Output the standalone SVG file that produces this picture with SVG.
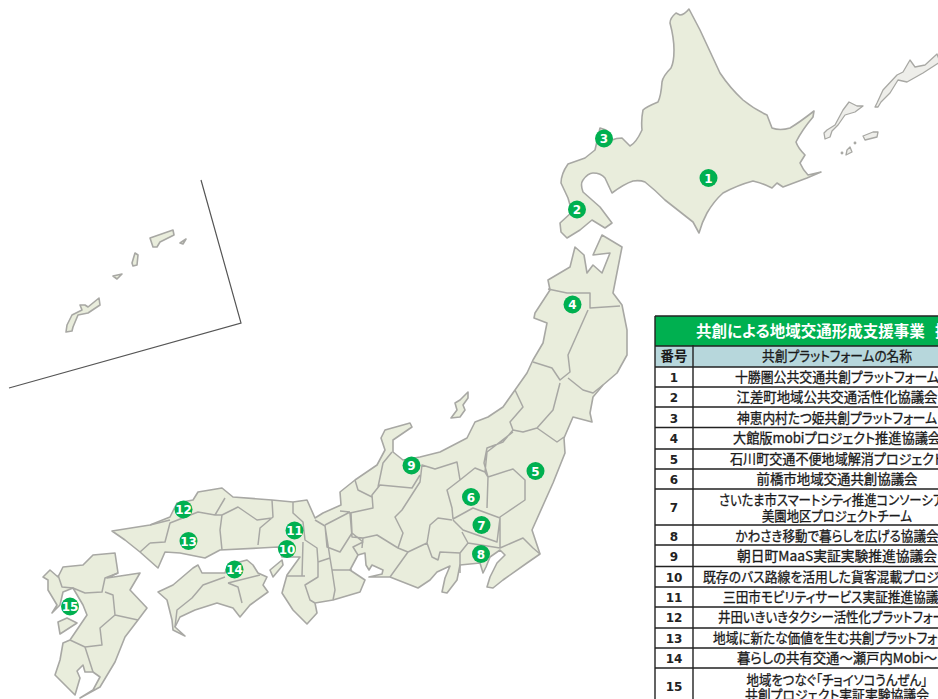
<svg xmlns="http://www.w3.org/2000/svg" width="938" height="699" viewBox="0 0 938 699">
<defs><filter id="soft" x="-2%" y="-2%" width="104%" height="104%"><feGaussianBlur stdDeviation="0.45"/></filter></defs>
<style>
.land{fill:#e9eddc;stroke:#a8a8a4;stroke-width:1.6;stroke-linejoin:round}
.isl{fill:#eeeeea;stroke:#a8a8a4;stroke-width:1.3;stroke-linejoin:round}
.bd{fill:none;stroke:#a8a8a4;stroke-width:1.5;stroke-linejoin:round}
.m circle{fill:#00b050}
.m text{font:bold 12px "DejaVu Sans",sans-serif;fill:#fff;text-anchor:middle}
.grid{stroke:#222;stroke-width:1.4;fill:none}
.t{font-family:"Noto Sans CJK JP",sans-serif;font-size:13.4px;font-weight:400;font-feature-settings:"palt";fill:#1a1a1a;stroke:#1a1a1a;stroke-width:.3;text-anchor:middle}
.n{font:bold 12px "DejaVu Sans",sans-serif;fill:#222;text-anchor:middle}
</style>
<g id="map" filter="url(#soft)">
<path class="land" id="hokkaido" d="M689 9Q684 15 680 15L676 13Q670 18 670 23Q674 38 674 50Q674 62 671 68Q663 76 662 82Q661 96 658 102Q646 107 643 110Q641 120 642 130Q636 143 630 146L622 138Q616 138 612 140L606 130L600 128L595 150L585 158L568 164Q561 174 561 183L568 198L572 212L560 223L561 232L567 238L580 230L592 220L605 228L612 223L600 207L583 192Q580 184 583 180Q588 173 593 173Q601 173 605 178L612 193Q624 184 633 181Q640 180 645 182Q655 190 665 200L693 222L699 233Q702 222 707 213Q714 201 723 193Q738 185 753 181Q762 183 772 188L777 183L783 187L807 178L821 172L808 175Q803 170 800 163L805 155Q798 148 796 142Q802 130 813 117L814 111Q800 122 790 128Q780 131 772 128L767 115Q754 109 743 100Q730 88 720 73L700 30Z"/>
<path class="isl" d="M824 133L825 139L830 137L832 131L838 125L845 115L855 112L863 106L857 106L849 102L843 110L835 125L827 130Z"/>
<path class="isl" d="M875 107L877 103L883 90L897 75L903 72L910 60L915 67L925 65L937 54L940 62L923 73L907 82L898 80L890 93L881 102L878 107Z"/>
<path class="isl" d="M863 136L873 132L878 132L877 137L865 140Z"/>
<path class="isl" d="M847 150L850 147L852 152L846 155Z"/>
<circle class="isl" cx="842" cy="153" r=".8"/><circle class="isl" cx="855" cy="143" r=".8"/>
<path class="land" id="sado" d="M468 392L460 400L455 403L457 410L451 418L460 417L465 410L463 405L468 398Z"/>
<path class="land" id="honshu" d="M602 235L593 255L610 253L602 273L593 265L587 273L584 255L575 247L570 267L548 280L550 290L535 313L534 318L547 323L543 343L533 360L527 373L515 390L503 407L488 417L475 422L467 438L440 452L420 457L403 460L393 452L393 440L412 427L410 423L385 430L381 438L385 450L377 465L355 480L340 492L341 505L323 513L315 518L307 500L293 502L272 500L233 497L222 488L198 492L193 500L177 503L170 517L150 525L112 531L125 540L140 552L158 568L165 552L180 553L205 558L220 550L260 548L278 547L282 557L297 557L300 557L287 575L282 593L293 610L307 624L317 613L315 603L333 600L360 592L365 580L350 570L358 555L365 553L366 565L369 570L372 565L383 570L382 574L369 577L390 577L418 588L430 580L437 572L450 566L445 578L442 592L447 593L457 580L460 565L480 563L483 573L486 567L490 557L500 550L505 555L497 563L490 577L487 587L493 588L503 580L527 563L540 554L532 530L553 483L565 453L564 438L573 417L592 422L590 413L593 397L603 385L617 373L627 355L627 330L622 305L613 293L622 247Z"/>
<path class="land" id="shikoku" d="M158 592L173 585L193 568L198 565L202 573L225 573L228 565L247 560L253 565L258 573L267 577L263 585L268 592L250 605L240 617L233 608L217 603L195 610L180 617L175 627L185 636L173 630L172 620L167 600Z"/>
<path class="land" id="awaji" d="M270 570L282 560L283 565L273 577Z"/>
<path class="land" id="kyushu" d="M115 553L93 555L83 565L63 567L58 577L50 570L43 577L48 580L48 590L57 605L52 613L60 605L63 592L73 588L83 605L87 615L70 640L63 643L60 660L55 675L67 687L75 695L80 678L77 671L83 665L85 672L93 672L100 677L93 690L80 698L100 687L115 662L125 637L138 620L147 608L130 590L140 573L107 578L118 573Z"/>
<path class="land" id="amakusa" d="M58 622L67 618L77 623L60 634Z"/>
<path class="bd" d="M548 289L567 293L590 293L590 308L620 306M588 310L580 328L568 355L570 372L560 380L552 368L533 362M568 378L583 390L593 393L603 385M560 383L553 410L537 428L523 432L513 430L510 422L523 407L515 390M537 428L557 442L564 437M513 430L503 442L487 448L484 463L488 477M513 432L487 452L485 472L475 468L460 480L457 462L435 469L422 465L420 482L402 510L395 517L403 533L398 548L408 552L390 577M485 472L488 477L513 469L525 480L525 500L500 517L500 548L523 538L533 548L540 554M460 480L447 490L452 508L453 519L473 508L500 518M488 477L487 508M453 520L463 530L497 542L500 518M462 532L468 543L500 548M468 543L460 553L460 573M452 520L438 518L430 525L427 543L432 557L438 560L440 552L460 553M427 543L408 552M398 548L377 535L363 538L352 537L350 513L373 508L372 495L380 485L412 488L420 475M378 487L383 463L392 452M355 480L358 490L372 497M340 511L350 512M363 538L362 548M351 513L352 533L363 542L353 547L358 555M325 525L350 512M325 525L327 547L340 552L352 533M315 520L325 526L330 558L318 562L318 577L305 585L310 600L315 603M330 558L332 570L352 570M332 570L335 590L333 600M293 502L293 513L303 522L305 540L317 548L318 562M305 576L287 576M303 542L302 576M272 500L273 517L260 528L258 545M272 518L257 520L238 507L222 515L215 515L198 512L170 523L165 542L150 543M225 498L215 515M222 515L220 530L222 550M150 525L170 520M150 543L140 552"/>
<path class="bd" d="M225 577L203 585L192 598L177 610L175 627M228 583L238 587L242 603M228 583L260 575"/>
<path class="bd" d="M118 573L105 578L102 592L85 593L73 588M58 575L62 587L73 588M105 592L113 595L115 615L138 620M115 615L100 628L102 645L85 647L70 640M85 647L93 672"/>
<path class="land" d="M66 332L67 325L72 315L82 310L80 305L85 305L88 307L99 298L100 305L88 313L78 315L73 327L72 331Z"/>
<path class="land" d="M113 276L122 274L117 279Z"/>
<path class="land" d="M132 263L135 253L138 255L137 265L133 266Z"/>
<path class="land" d="M150 238L173 230L174 235L160 242L157 247L153 247Z"/>
<path class="land" d="M180 243L186 239L183 244Z"/>
<path d="M201 180L241 323L9 388" fill="none" stroke="#555" stroke-width="1.2"/>
</g>
<g id="markers">
<g class="m" id="m1"><circle cx="708.500" cy="178" r="9"/><text x="708.500" y="182.500">1</text></g>
<g class="m" id="m2"><circle cx="577" cy="209.500" r="9"/><text x="577" y="214">2</text></g>
<g class="m" id="m3"><circle cx="604" cy="138.500" r="9"/><text x="604" y="143">3</text></g>
<g class="m" id="m4"><circle cx="572.500" cy="304.500" r="9"/><text x="572.500" y="309">4</text></g>
<g class="m" id="m5"><circle cx="535.500" cy="471" r="9"/><text x="535.500" y="475.500">5</text></g>
<g class="m" id="m6"><circle cx="471" cy="497" r="9"/><text x="471" y="501.500">6</text></g>
<g class="m" id="m7"><circle cx="481.500" cy="525" r="9"/><text x="481.500" y="529.500">7</text></g>
<g class="m" id="m8"><circle cx="481" cy="554" r="9"/><text x="481" y="558.500">8</text></g>
<g class="m" id="m9"><circle cx="411.500" cy="465.500" r="9"/><text x="411.500" y="470">9</text></g>
<g class="m" id="m11"><circle cx="294.500" cy="530.500" r="9"/><text x="294.500" y="535">11</text></g>
<g class="m" id="m10"><circle cx="287" cy="549" r="9"/><text x="287" y="553.500">10</text></g>
<g class="m" id="m12"><circle cx="183.500" cy="509.500" r="9"/><text x="183.500" y="514">12</text></g>
<g class="m" id="m13"><circle cx="188.500" cy="541" r="9"/><text x="188.500" y="545.500">13</text></g>
<g class="m" id="m14"><circle cx="234.500" cy="569.500" r="9"/><text x="234.500" y="574">14</text></g>
<g class="m" id="m15"><circle cx="70" cy="606.500" r="9"/><text x="70" y="611">15</text></g>
</g>
<g id="table">
<rect x="655" y="316" width="290" height="30" fill="#00b050"/>
<rect x="655" y="346" width="290" height="21" fill="#b7d7dc"/>
<rect x="655" y="367" width="290" height="340" fill="#fff"/>
<path class="grid" d="M655 316H938M655 346H938M655 367H938M655 387H938M655 407H938M655 427.500H938M655 449H938M655 469H938M655 489H938M655 525H938M655 545H938M655 566.500H938M655 587H938M655 607H938M655 628H938M655 648H938M655 668H938M655 316V699M693 345V699"/>
<text x="696" y="337" style="font-family:'Noto Sans CJK JP',sans-serif;font-size:15.500px;font-weight:700;font-feature-settings:'palt';fill:#fff">共創による地域交通形成支援事業</text>
<text x="935" y="337" style="font-family:'Noto Sans CJK JP',sans-serif;font-size:15.500px;font-weight:700;fill:#fff">採</text>
<text class="t" x="674" y="361" style="font-weight:700;stroke:none">番号</text>
<text class="t" x="837" y="361" textLength="150" lengthAdjust="spacingAndGlyphs">共創プラットフォームの名称</text>
<text class="n" x="674" y="382">1</text><text class="t" x="837" y="382" textLength="204" lengthAdjust="spacingAndGlyphs">十勝圏公共交通共創プラットフォーム</text>
<text class="n" x="674" y="402">2</text><text class="t" x="837" y="402" textLength="201" lengthAdjust="spacingAndGlyphs">江差町地域公共交通活性化協議会</text>
<text class="n" x="674" y="423">3</text><text class="t" x="837" y="423" textLength="200" lengthAdjust="spacingAndGlyphs">神恵内村たつ姫共創プラットフォーム</text>
<text class="n" x="674" y="443">4</text><text class="t" x="837" y="443" textLength="208" lengthAdjust="spacingAndGlyphs">大館版mobiプロジェクト推進協議会</text>
<text class="n" x="674" y="464">5</text><text class="t" x="837" y="464" textLength="214" lengthAdjust="spacingAndGlyphs">石川町交通不便地域解消プロジェクト</text>
<text class="n" x="674" y="484">6</text><text class="t" x="837" y="484" textLength="161" lengthAdjust="spacingAndGlyphs">前橋市地域交通共創協議会</text>
<text class="n" x="674" y="512">7</text><text class="t" x="837" y="505" textLength="236" lengthAdjust="spacingAndGlyphs">さいたま市スマートシティ推進コンソーシアム</text><text class="t" x="837" y="521" textLength="150" lengthAdjust="spacingAndGlyphs">美園地区プロジェクトチーム</text>
<text class="n" x="674" y="541">8</text><text class="t" x="837" y="541" textLength="203" lengthAdjust="spacingAndGlyphs">かわさき移動で暮らしを広げる協議会</text>
<text class="n" x="674" y="561">9</text><text class="t" x="837" y="561" textLength="200" lengthAdjust="spacingAndGlyphs">朝日町MaaS実証実験推進協議会</text>
<text class="n" x="674" y="582">10</text><text class="t" x="837" y="582" textLength="268" lengthAdjust="spacingAndGlyphs">既存のバス路線を活用した貨客混載プロジェクト</text>
<text class="n" x="674" y="602">11</text><text class="t" x="837" y="602" textLength="228" lengthAdjust="spacingAndGlyphs">三田市モビリティサービス実証推進協議会</text>
<text class="n" x="674" y="622">12</text><text class="t" x="837" y="622" textLength="238" lengthAdjust="spacingAndGlyphs">井田いきいきタクシー活性化プラットフォーム</text>
<text class="n" x="674" y="643">13</text><text class="t" x="837" y="643" textLength="248" lengthAdjust="spacingAndGlyphs">地域に新たな価値を生む共創プラットフォーム</text>
<text class="n" x="674" y="663">14</text><text class="t" x="837" y="663" textLength="200" lengthAdjust="spacingAndGlyphs">暮らしの共有交通～瀬戸内Mobi～</text>
<text class="n" x="674" y="691">15</text><text class="t" x="837" y="685" textLength="181" lengthAdjust="spacingAndGlyphs">地域をつなぐ「チョイソコうんぜん」</text><text class="t" x="837" y="700" textLength="184" lengthAdjust="spacingAndGlyphs">共創プロジェクト実証実験協議会</text>
</g>
</svg>
